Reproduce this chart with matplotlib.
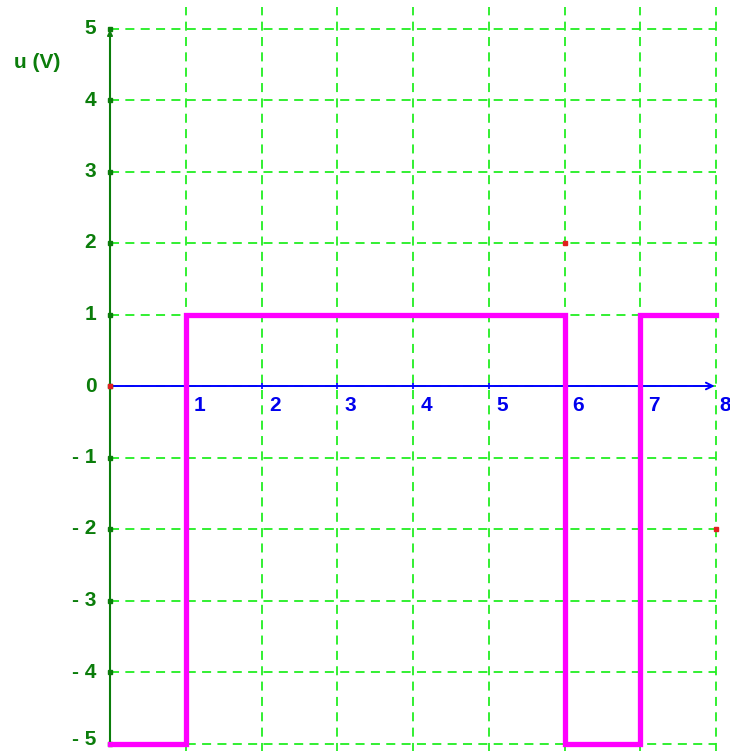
import matplotlib.pyplot as plt
import numpy as np

# square wave signal u(t)
t = [0, 1, 1, 6, 6, 7, 7, 8]
u = [-5, -5, 1, 1, -5, -5, 1, 1]

x_ticks = [1, 2, 3, 4, 5, 6, 7, 8]
y_ticks = [5, 4, 3, 2, 1, 0, -1, -2, -3, -4, -5]
y_labels = ['5', '4', '3', '2', '1', '0', '- 1', '- 2', '- 3', '- 4', '- 5']

# stray marker points seen on the grid
dots_x = [0, 6, 8]
dots_y = [0, 2, -2]

grid_col = '#22ee22'
axis_green = '#0b7d0b'
font = 'Liberation Sans'

fig = plt.figure(figsize=(7.30, 7.51), dpi=100)
ax = fig.add_axes([0, 0, 1, 1])
# pixel mapping: x=0 -> 110px, x=8 -> 716px ; y=0 -> 386px, 71.5 px per unit
ax.set_xlim(-110 / 75.75, (730 - 110) / 75.75)
ax.set_ylim(-(751 - 386) / 71.5, 386 / 71.5)
ax.axis('off')

# grid
ax.vlines(x_ticks, -6, 5.3, colors=grid_col, linewidth=1.3, linestyles=(0, (5, 3.5)), zorder=1)
ax.hlines(y_ticks, 0, 8, colors=grid_col, linewidth=1.3, linestyles=(0, (5, 3.5)), zorder=1)

# y axis with arrow
ax.plot([0, 0], [-5, 4.95], color=axis_green, linewidth=1.5, zorder=3)
ax.annotate('', xy=(0, 5.02), xytext=(0, 4.7),
            arrowprops=dict(arrowstyle='-|>', color=axis_green, lw=1.2, mutation_scale=8), zorder=3)
ax.plot([0] * len(y_ticks), y_ticks, 's', color=axis_green, markersize=3, zorder=4)

# x axis with arrow
ax.annotate('', xy=(8.02, 0), xytext=(0, 0),
            arrowprops=dict(arrowstyle='->', color='#0000ff', lw=1.4, mutation_scale=12), zorder=3)
ax.plot(x_ticks[:-1], [0] * 7, '|', color='#0000ff', markersize=5, markeredgewidth=1.2, zorder=4)

# signal
ax.plot(t, u, color='#ff00ff', linewidth=3.8, solid_joinstyle='miter', zorder=5)

ax.plot(dots_x, dots_y, 's', color='#e02020', markersize=3, zorder=6)

# labels
for yv, lab in zip(y_ticks, y_labels):
    yy = yv if yv > -5 else yv + 0.05
    ax.text(-0.18, yy, lab, color=axis_green, fontsize=15, fontweight='bold',
            family=font, ha='right', va='center')
for xv in x_ticks:
    dx = 0.1 if xv < 8 else 0.04
    ax.text(xv + dx, -0.27, str(xv), color='#0000ee', fontsize=15, fontweight='bold',
            family=font, ha='left', va='center')
ax.text(-1.27, 4.53, 'u (V)', color=axis_green, fontsize=15, fontweight='bold',
        family=font, ha='left', va='center')

fig.savefig('out.png', dpi=100)
